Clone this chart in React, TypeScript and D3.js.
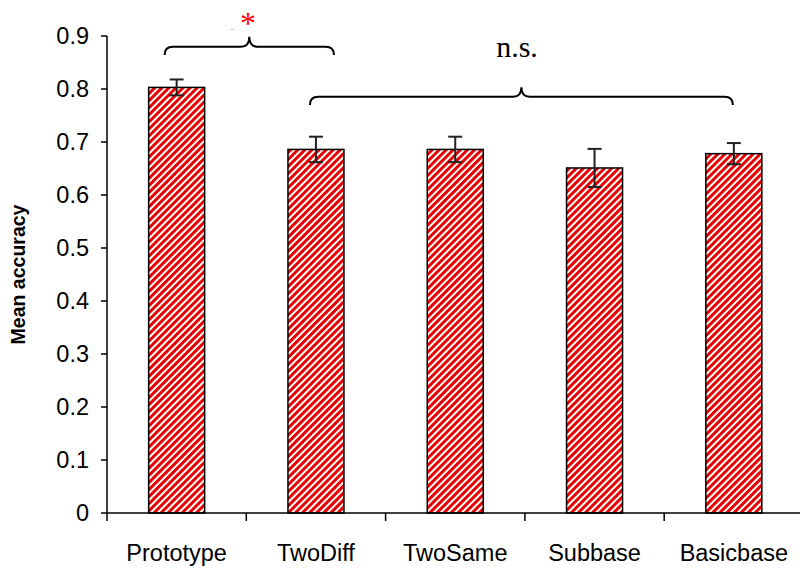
import React from "react";
import * as d3 from "d3";

const categories = ["Prototype", "TwoDiff", "TwoSame", "Subbase", "Basicbase"];
const meanAccuracy = [0.803, 0.686, 0.686, 0.651, 0.678];
const errors = [0.015, 0.024, 0.024, 0.036, 0.02];
const yTicks = [0, 0.1, 0.2, 0.3, 0.4, 0.5, 0.6, 0.7, 0.8, 0.9];

const W = 800;
const H = 571;
const left = 107;
const bottom = 513;
const top = 36;

export default function App() {
  const x = d3.scaleBand<string>().domain(categories).range([left, left + 5 * 139.3]).paddingInner(0).paddingOuter(0);
  const y = d3.scaleLinear().domain([0, 0.9]).range([bottom, top]);
  const bw = x.bandwidth();
  const barW = 56;
  const cx = (c: string) => (x(c) as number) + bw / 2;
  const red = "#e60000";

  const brace = (x1: number, x2: number, xm: number, yLine: number, yEnd: number, yTip: number) => {
    const r = yEnd - yLine;
    return `M${x1},${yEnd} Q${x1},${yLine} ${x1 + r},${yLine} L${xm - r},${yLine} Q${xm},${yLine} ${xm},${yTip} Q${xm},${yLine} ${xm + r},${yLine} L${x2 - r},${yLine} Q${x2},${yLine} ${x2},${yEnd}`;
  };

  const b1x1 = cx(categories[0]) - 12;
  const b1x2 = cx(categories[1]) + 18;
  const b2x1 = cx(categories[1]) - 6;
  const b2x2 = cx(categories[4]) - 1;

  return (
    <svg width={W} height={H} style={{ position: "absolute", left: 0, top: 0, background: "#fff" }} fontFamily="Arial, 'Liberation Sans', sans-serif">
      <defs>
        <pattern id="stripes" patternUnits="userSpaceOnUse" width={5} height={5} patternTransform="rotate(45)">
          <rect x={0} y={0} width={5} height={5} fill="#fff" />
          <rect x={0} y={0} width={3} height={5} fill={red} />
        </pattern>
      </defs>
      {/* bars */}
      {categories.map((c, i) => (
        <rect key={c} x={cx(c) - barW / 2} y={y(meanAccuracy[i])} width={barW} height={bottom - y(meanAccuracy[i])} fill="url(#stripes)" stroke="#000" strokeWidth={1.5} />
      ))}
      {/* error bars */}
      {categories.map((c, i) => {
        const m = meanAccuracy[i];
        const e = errors[i];
        const xc = cx(c);
        return (
          <g key={c + "e"} stroke="#222" strokeWidth={2}>
            <line x1={xc} x2={xc} y1={y(m + e)} y2={y(m - e)} />
            <line x1={xc - 7} x2={xc + 7} y1={y(m + e)} y2={y(m + e)} />
            <line x1={xc - 7} x2={xc + 7} y1={y(m - e)} y2={y(m - e)} />
          </g>
        );
      })}
      {/* y axis */}
      <line x1={left} x2={left} y1={top} y2={bottom} stroke="#000" strokeWidth={1.5} />
      {yTicks.map((t) => (
        <g key={t}>
          <line x1={left - 6} x2={left} y1={y(t)} y2={y(t)} stroke="#000" strokeWidth={1.5} />
          <text x={89} y={y(t)} dy="0.35em" textAnchor="end" fontSize={23.5}>{t === 0 ? "0" : t.toFixed(1)}</text>
        </g>
      ))}
      {/* x axis */}
      <line x1={left} x2={left + 5 * 139.3} y1={bottom} y2={bottom} stroke="#000" strokeWidth={1.5} />
      {[...categories.map((c) => x(c) as number), left + 5 * 139.3].map((p, i) => (
        <line key={i} x1={p} x2={p} y1={bottom} y2={bottom + 8} stroke="#000" strokeWidth={1.5} />
      ))}
      {categories.map((c) => (
        <text key={c + "l"} x={cx(c)} y={561} textAnchor="middle" fontSize={23.5}>{c}</text>
      ))}
      <text transform={`translate(25,${(top + bottom) / 2}) rotate(-90)`} textAnchor="middle" fontSize={19.5} fontWeight="bold">Mean accuracy</text>
      {/* annotations */}
      <path d={brace(b1x1, b1x2, (b1x1 + b1x2) / 2, 46.7, 55, 36.7)} fill="none" stroke="#000" strokeWidth={2} />
      <path d={brace(b2x1, b2x2, (b2x1 + b2x2) / 2, 96.7, 105, 87.3)} fill="none" stroke="#000" strokeWidth={2} />
      <text x={248} y={34} textAnchor="middle" fill="#ff0000" fontSize={32} fontFamily="'Liberation Serif', 'Times New Roman', serif">*</text>
      <text x={232} y={30} textAnchor="middle" fontSize={8} fontFamily="'Liberation Serif', serif">.</text>
      <text x={517} y={57} textAnchor="middle" fontSize={30} fontFamily="'Liberation Serif', 'Times New Roman', serif">n.s.</text>
    </svg>
  );
}
